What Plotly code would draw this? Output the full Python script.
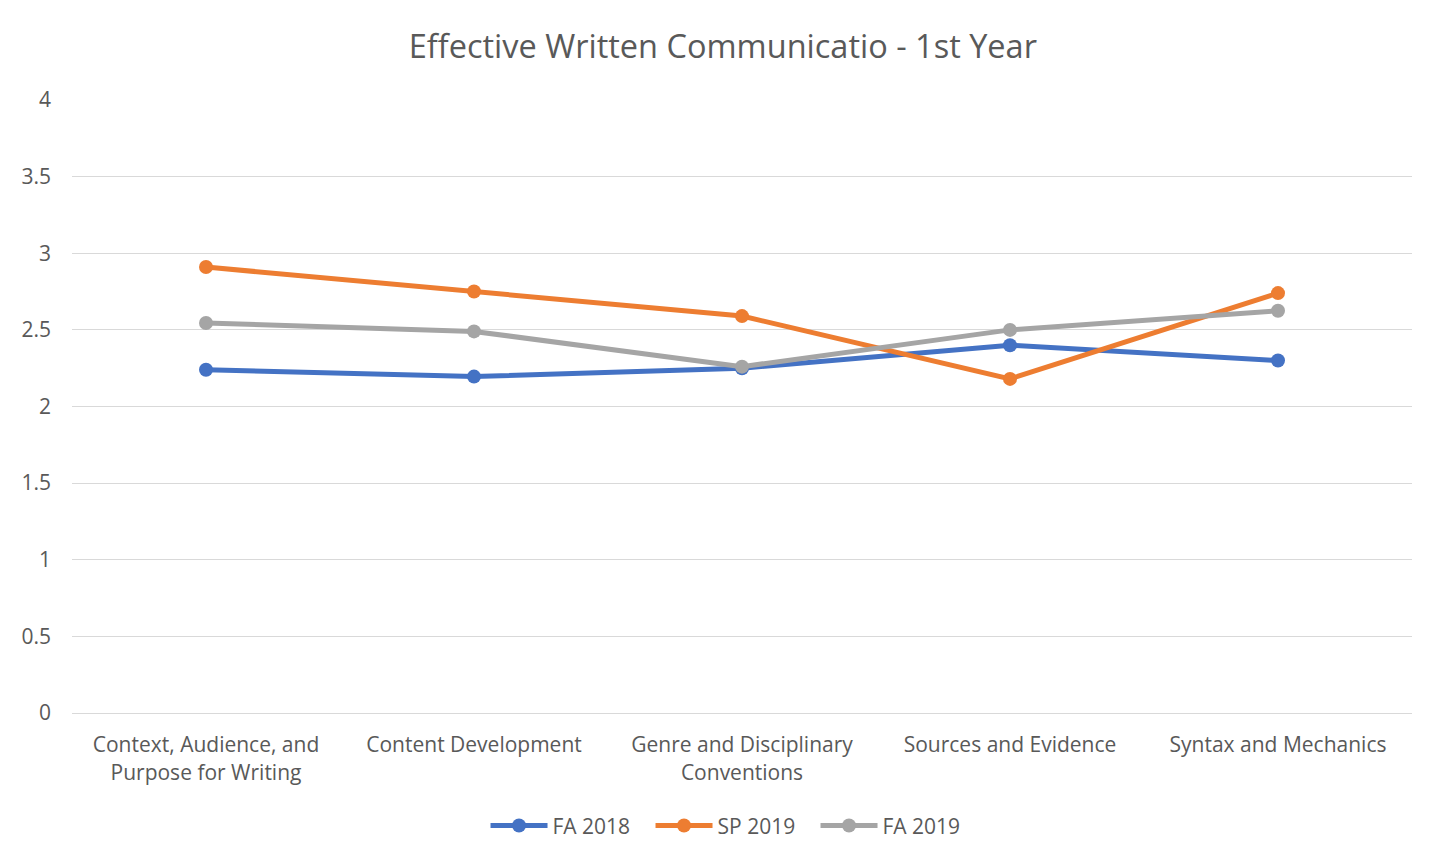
import plotly.graph_objects as go

# categories and series
categories = [
    "Context, Audience, and<br>Purpose for Writing",
    "Content Development",
    "Genre and Disciplinary<br>Conventions",
    "Sources and Evidence",
    "Syntax and Mechanics",
]
fa_2018 = [2.24, 2.195, 2.25, 2.40, 2.30]
sp_2019 = [2.91, 2.75, 2.59, 2.18, 2.74]
fa_2019 = [2.545, 2.49, 2.26, 2.50, 2.625]

series = [
    ("FA 2018", fa_2018, "#4472C4"),
    ("SP 2019", sp_2019, "#ED7D31"),
    ("FA 2019", fa_2019, "#A5A5A5"),
]

fig = go.Figure()
for name, vals, color in series:
    fig.add_trace(go.Scatter(
        x=list(range(len(categories))), y=vals, name=name,
        mode="lines+markers",
        line=dict(color=color, width=5),
        marker=dict(color=color, size=14),
    ))

font = "Open Sans, Liberation Sans, sans-serif"
# page body has an 8px margin, so the figure is 8px smaller
fig.update_layout(
    width=1434, height=857,
    paper_bgcolor="white", plot_bgcolor="white",
    margin=dict(l=64, r=30, t=92, b=152),
    font=dict(family=font, size=21, color="#595959"),
    title=dict(text="Effective Written Communicatio - 1st Year",
               x=0.4985, xanchor="center", y=0.9545, yanchor="middle",
               font=dict(size=32.5, color="#595959")),
    legend=dict(orientation="h", x=0.4933, xanchor="center", y=-0.184,
                yanchor="middle", font=dict(size=21), itemwidth=57,
                entrywidth=93, entrywidthmode="pixels"),
    showlegend=True,
)
fig.update_xaxes(
    tickmode="array", tickvals=list(range(len(categories))), ticktext=categories,
    range=[-0.5, 4.5], showgrid=False, showline=True, linecolor="#D9D9D9",
    linewidth=1, ticks="", zeroline=False, tickfont=dict(size=21),
    ticklabelstandoff=13,
)
fig.update_yaxes(
    range=[0, 4], dtick=0.5, showgrid=True, gridcolor="#D9D9D9", gridwidth=1,
    zeroline=False, showline=False, ticks="", ticklen=0,
    tickfont=dict(size=21), ticklabelstandoff=20,
)

fig.write_html("out.html")
